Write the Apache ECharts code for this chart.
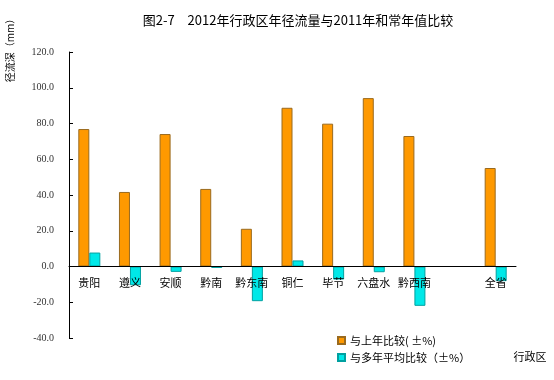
<!DOCTYPE html>
<html>
<head>
<meta charset="utf-8">
<script src="https://cdn.jsdelivr.net/npm/echarts@6/dist/echarts.min.js"></script>
<style>html,body{margin:0;padding:0;background:#fff}#c{width:554px;height:380px}</style>
</head>
<body>
<div id="c"></div>
<script>
var categories = ['贵阳','遵义','安顺','黔南','黔东南','铜仁','毕节','六盘水','黔西南','','全省'];
var vsLastYear = [76.9, 41.7, 74.1, 43.4, 21.1, 88.8, 79.9, 94.2, 73.0, null, 55.1];
var vsAverage = [7.8, -10.5, -3.0, -0.8, -19.4, 3.4, -7.3, -3.2, -22.0, null, -8.2];
var seriesNames = ['与上年比较( ±%)', '与多年平均比较（±%）'];

var chart = echarts.init(document.getElementById('c'));
var cjk = '"Noto Sans CJK SC", sans-serif';
chart.setOption({
  animation: false,
  backgroundColor: '#fff',
  title: {
    text: '图2-7　2012年行政区年径流量与2011年和常年值比较',
    left: 293, top: 9, textAlign: 'center',
    textStyle: {fontFamily: cjk, fontSize: 13, fontWeight: 'normal', color: '#000'}
  },
  legend: {
    orient: 'vertical', left: 332, top: 330, itemGap: 6,
    itemWidth: 7, itemHeight: 7, icon: 'rect',
    textStyle: {fontFamily: cjk, fontSize: 11, color: '#000'},
    data: seriesNames
  },
  grid: {left: 69, right: 38, top: 52, bottom: 42},
  xAxis: {
    type: 'category', data: categories, offset: -71.5, z: 5,
    axisLine: {onZero: false, lineStyle: {color: '#000', width: 1}},
    axisTick: {inside: true, length: 4, lineStyle: {color: '#000'}},
    axisLabel: {fontFamily: cjk, fontSize: 11, color: '#000', margin: 11, interval: 0}
  },
  yAxis: {
    type: 'value', min: -40, max: 120, interval: 20,
    axisLine: {show: true, lineStyle: {color: '#000', width: 1}},
    axisTick: {show: true, inside: true, length: 4, lineStyle: {color: '#000'}},
    splitLine: {show: false},
    axisLabel: {fontFamily: '"Liberation Serif", serif', fontSize: 10, color: '#333', margin: 15,
      formatter: function (v) { return v.toFixed(1); }}
  },
  graphic: [
    {type: 'text', x: 10, y: 48, rotation: Math.PI / 2,
     style: {text: '径流深（mm）', font: '10px "Noto Sans CJK SC"', fill: '#000', textAlign: 'center', textVerticalAlign: 'middle'}},
    {type: 'text', x: 530, y: 357,
     style: {text: '行政区', font: '11px "Noto Sans CJK SC"', fill: '#000', textAlign: 'center', textVerticalAlign: 'middle'}}
  ],
  series: [
    {name: seriesNames[0], type: 'bar', data: vsLastYear, barWidth: 11, barGap: '0%',
     itemStyle: {color: '#FF9900', borderColor: '#9A6A1E', borderWidth: 1}},
    {name: seriesNames[1], type: 'bar', data: vsAverage, barWidth: 11, barGap: '0%',
     itemStyle: {color: '#00E8E8', borderColor: '#00A0A0', borderWidth: 1}}
  ]
});
</script>
</body>
</html>
